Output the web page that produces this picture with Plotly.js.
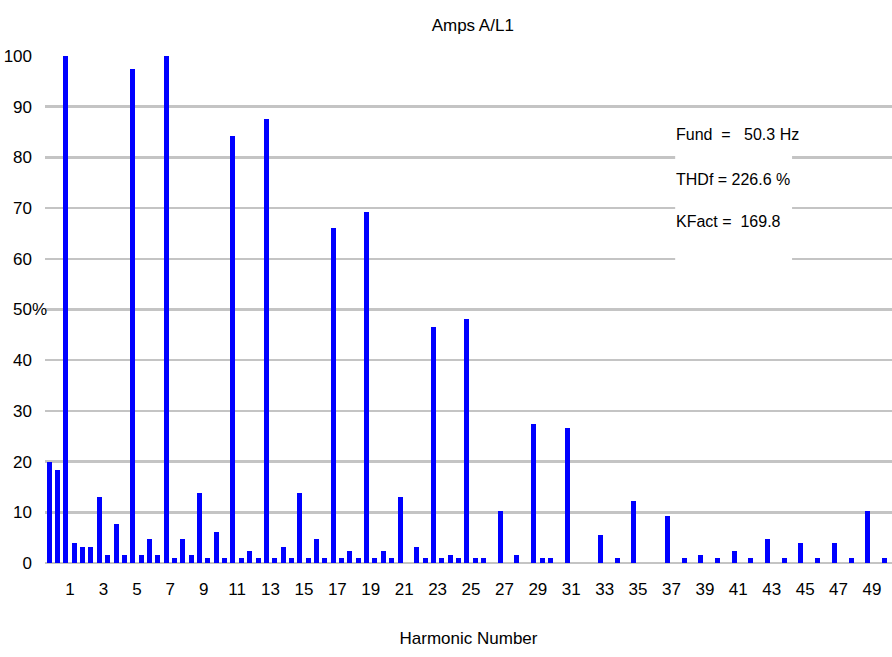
<!DOCTYPE html>
<html>
<head>
<meta charset="utf-8">
<script src="https://cdn.plot.ly/plotly-3.0.1.min.js"></script>
<style>html,body{margin:0;padding:0;background:#fff;}#chart{width:892px;height:657px;}</style>
</head>
<body>
<div id="chart"></div>
<script>
// Harmonic positions (half-harmonic resolution) and amplitude in % of fundamental
const harmonics = [0, 0.5, 1, 1.5, 2, 2.5, 3, 3.5, 4, 4.5, 5, 5.5, 6, 6.5, 7, 7.5, 8, 8.5, 9, 9.5,
  10, 10.5, 11, 11.5, 12, 12.5, 13, 13.5, 14, 14.5, 15, 15.5, 16, 16.5, 17, 17.5, 18, 18.5, 19, 19.5,
  20, 20.5, 21, 22, 22.5, 23, 23.5, 24, 24.5, 25, 25.5, 26, 27, 28, 29, 29.5, 30, 31,
  33, 34, 35, 37, 38, 39, 40, 41, 42, 43, 44, 45, 46, 47, 48, 49, 50];
const amps = [20.0, 18.4, 100, 3.9, 3.2, 3.2, 13.0, 1.6, 7.7, 1.6, 97.5, 1.6, 4.7, 1.6, 100, 0.9, 4.7, 1.6, 13.9, 0.9,
  6.2, 0.9, 84.3, 0.9, 2.4, 0.9, 87.5, 0.9, 3.2, 0.9, 13.9, 0.9, 4.7, 0.9, 66.1, 0.9, 2.4, 0.9, 69.3, 0.9,
  2.4, 0.9, 13.0, 3.2, 0.9, 46.5, 0.9, 1.6, 0.9, 48.1, 0.9, 0.9, 10.2, 1.6, 27.5, 0.9, 0.9, 26.7,
  5.5, 0.9, 12.3, 9.3, 0.9, 1.6, 0.9, 2.4, 0.9, 4.7, 0.9, 3.9, 0.9, 3.9, 0.9, 10.2, 0.9];
const xTickVals = [1, 3, 5, 7, 9, 11, 13, 15, 17, 19, 21, 23, 25, 27, 29, 31, 33, 35, 37, 39, 41, 43, 45, 47, 49];
const xTickText = xTickVals.map(String);
const yTickVals = [0, 10, 20, 30, 40, 50, 60, 70, 80, 90, 100];
const infoLines = ["Fund  =   50.3 Hz", "THDf = 226.6 %", "KFact =  169.8"];

const FONT = "Liberation Sans Narrow, Arial Narrow, Liberation Sans, Arial, sans-serif";

const trace = {
  type: 'bar',
  x: harmonics,
  y: amps,
  width: 0.3,
  offset: -0.4,
  marker: {color: '#0000ff', line: {width: 0}},
  hoverinfo: 'x+y'
};

const layout = {
  width: 892, height: 657,
  margin: {l: 45, r: 0, t: 56, b: 94},
  paper_bgcolor: '#ffffff',
  plot_bgcolor: '#ffffff',
  showlegend: false,
  bargap: 0,
  title: {text: 'Amps A/L1', font: {family: FONT, size: 17, color: '#000'}, x: 0.505, xref: 'paper', xanchor: 'center', y: 0.962, yanchor: 'middle'},
  xaxis: {
    range: [-0.5, 50.2],
    tickmode: 'array', tickvals: xTickVals, ticktext: xTickText,
    showgrid: false, zeroline: false, showline: false, ticks: '',
    ticklabelstandoff: 14,
    tickfont: {family: FONT, size: 17, color: '#000'},
    title: {text: 'Harmonic Number', font: {family: FONT, size: 17, color: '#000'}, standoff: 34}
  },
  yaxis: {
    range: [0, 100],
    tickmode: 'array', tickvals: yTickVals,
    showgrid: true, gridcolor: '#c4c4c4', gridwidth: 2.5,
    zeroline: true, zerolinecolor: '#c4c4c4', zerolinewidth: 2.5,
    showline: false, ticks: '',
    ticklabelstandoff: 12,
    tickfont: {family: FONT, size: 17, color: '#000'}
  },
  shapes: [
    {type: 'rect', xref: 'paper', yref: 'y', x0: 0.744, x1: 0.882, y0: 59.5, y1: 89, fillcolor: '#ffffff', line: {width: 0}, layer: 'above'}
  ],
  annotations: [
    {xref: 'paper', yref: 'y', x: -0.006, y: 50, text: '%', showarrow: false, xanchor: 'center', yanchor: 'middle', font: {family: FONT, size: 17, color: '#000'}},
    {xref: 'paper', yref: 'y', x: 0.743, y: 84.6, text: infoLines[0], showarrow: false, xanchor: 'left', yanchor: 'middle', font: {family: FONT, size: 16, color: '#000'}},
    {xref: 'paper', yref: 'y', x: 0.743, y: 75.6, text: infoLines[1], showarrow: false, xanchor: 'left', yanchor: 'middle', font: {family: FONT, size: 16, color: '#000'}},
    {xref: 'paper', yref: 'y', x: 0.743, y: 67.3, text: infoLines[2], showarrow: false, xanchor: 'left', yanchor: 'middle', font: {family: FONT, size: 16, color: '#000'}}
  ]
};

Plotly.newPlot('chart', [trace], layout, {staticPlot: true, displayModeBar: false});
</script>
</body>
</html>
